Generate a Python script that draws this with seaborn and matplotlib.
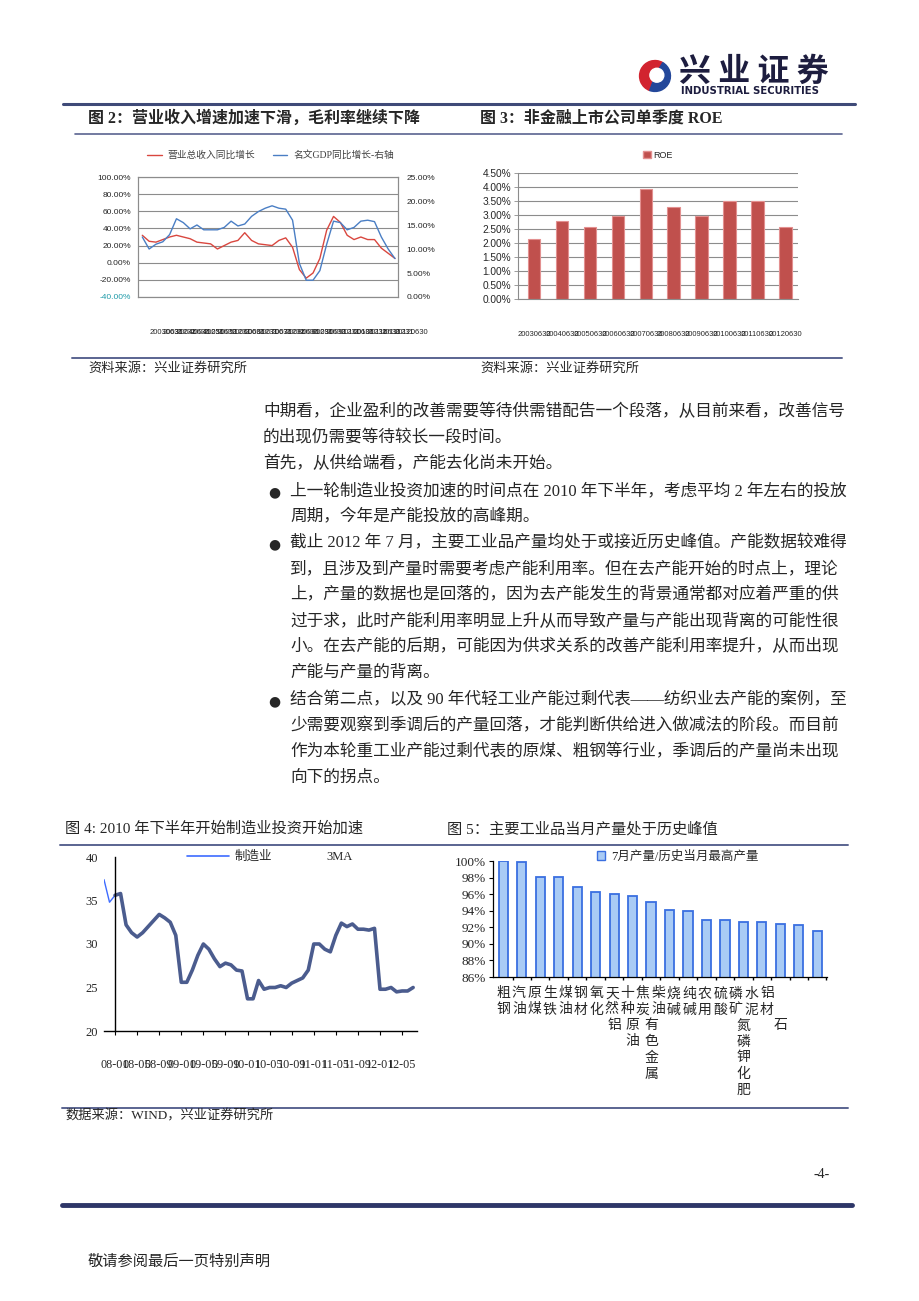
import numpy as np
import pandas as pd
import matplotlib
matplotlib.use('Agg')
import matplotlib.pyplot as plt
import seaborn as sns
from matplotlib.lines import Line2D
from matplotlib.patches import Patch, Wedge, Circle

# ---------------- data ----------------
# 图2: quarterly growth (%), 2003Q1 .. 2012Q2
rev_growth = [32, 25, 24, 27, 30, 32, 30, 28, 24, 23, 22, 16, 20, 24, 26, 35, 26, 22, 21,
              20, 26, 29, 18, -8, -18, -12, 5, 38, 54, 47, 32, 27, 30, 27, 27, 17, 11, 5]
gdp_growth = [12.5, 10, 11, 11.5, 13, 16.3, 15.5, 14.2, 15, 14, 14, 14, 14.5, 15.8, 14.8, 15.2,
              16.8, 17.8, 18.5, 19, 18.5, 18.3, 16, 7, 3.5, 3.5, 5.5, 11, 15.8, 15.5, 14, 14.5,
              15.8, 16, 15.7, 12.5, 10, 8]
q_tick_labels = ["20030630", "20031231", "20040630", "20041231", "20050630", "20051231",
                 "20060630", "20061231", "20070630", "20071231", "20080630", "20081231",
                 "20090630", "20091231", "20100630", "20101231", "20110630", "20111231",
                 "20120630"]
rev_name = "营业总收入同比增长"
gdp_name = "名文GDP同比增长-右轴"

# 图3: ROE (%)
roe_dates = ["20030630", "20040630", "20050630", "20060630", "20070630",
             "20080630", "20090630", "20100630", "20110630", "20120630"]
roe_values = [2.14, 2.77, 2.57, 2.97, 3.94, 3.29, 2.97, 3.51, 3.51, 2.57]

# 图4: manufacturing FAI growth, monthly
mfg_months = list(range(-2, 55))
ma3_months = list(range(0, 55))
ma3_values = [35.6, 35.8, 32.2, 31.3, 30.8, 31.3, 32.0, 32.7, 33.4, 33.0, 32.5, 31.0, 25.6,
              25.6, 27.0, 28.7, 30.0, 29.4, 28.3, 27.4, 27.8, 27.6, 27.0, 26.9, 23.7, 23.7,
              25.8, 24.8, 25.0, 25.0, 25.2, 25.0, 25.5, 25.8, 26.1, 27.0, 30.0, 30.0, 29.4,
              29.1, 31.0, 32.4, 32.0, 32.3, 31.7, 31.7, 31.6, 31.8, 24.8, 24.8, 25.0, 24.5,
              24.6, 24.6, 25.0]
mfg_values = [37.4, 34.8, 35.6, 35.8, 32.2, 31.3, 30.8, 31.3, 32.0, 32.7, 33.4, 33.0, 32.5,
              31.0, 25.6, 25.6, 27.0, 28.7, 30.0, 29.4, 28.3, 27.4, 27.8, 27.6, 27.0, 26.9,
              23.7, 23.7, 25.8, 24.8, 25.0, 25.0, 25.2, 25.0, 25.5, 25.8, 26.1, 27.0, 30.0,
              30.0, 29.4, 29.1, 31.0, 32.4, 32.0, 32.3, 31.7, 31.7, 31.6, 31.8, 24.8, 24.8,
              25.0, 24.5, 24.6, 24.6, 25.0]
mfg_tick_months = [0, 4, 8, 12, 16, 20, 24, 28, 32, 36, 40, 44, 48, 52]
mfg_tick_labels = ["08-01", "08-05", "08-09", "09-01", "09-05", "09-09", "10-01",
                   "10-05", "10-09", "11-01", "11-05", "11-09", "12-01", "12-05"]

# 图5: July output / historical same-month max (%)
products = ["粗钢", "汽油", "原煤", "生铁", "煤油", "钢材", "氧化铝", "天然原油", "十种有色金属",
            "焦炭", "柴油", "烧碱", "纯碱", "农用氮磷钾化肥", "硫酸", "磷矿石", "水泥", "铝材"]
ratios = [100.0, 99.84, 98.03, 98.03, 96.86, 96.22, 96.06, 95.74, 95.05, 94.05, 93.93,
          92.92, 92.92, 92.6, 92.6, 92.4, 92.24, 91.6]

# ---------------- style ----------------
sns.set_theme(style='white')
SERIF = ['Liberation Serif', 'Noto Sans CJK SC']
SANS = ['Liberation Sans', 'Noto Sans CJK SC']
plt.rcParams['font.family'] = SERIF
plt.rcParams['axes.unicode_minus'] = False

W, H = 920, 1301
fig = plt.figure(figsize=(9.2, 13.01), dpi=100)
fig.patch.set_facecolor('white')


def fx(x):
    return x / W


def fy(y):
    return 1 - y / H


def axrect(l, t, r, b):
    return [l / W, 1 - b / H, (r - l) / W, (b - t) / H]


def ftext(x, y, s, **kw):
    kw.setdefault('va', 'center')
    kw.setdefault('ha', 'left')
    fig.text(fx(x), fy(y), s, **kw)


def hline(y, x0, x1, lw=1.5, color='#4b5682'):
    fig.add_artist(Line2D([fx(x0), fx(x1)], [fy(y), fy(y)], lw=lw, color=color,
                          transform=fig.transFigure))


# ---------------- header ----------------
lax = fig.add_axes([fx(638), fy(93), 34 / W, 34 / H])
lax.set_xlim(-1.1, 1.1)
lax.set_ylim(-1.1, 1.1)
lax.set_aspect('equal')
lax.axis('off')
lax.add_patch(Wedge((0, 0), 1.0, 60, 250, color='#d2232f'))
lax.add_patch(Wedge((0, 0), 1.0, 250, 420, color='#23479a'))
lax.add_patch(Circle((0.12, 0.05), 0.45, color='white'))
ftext(679, 72, "兴 业 证 券", fontsize=23, fontweight='bold', color='#1d1d3f',
      family=['Noto Sans CJK SC'])
ftext(681, 91, "INDUSTRIAL SECURITIES", fontsize=7.3, fontweight='bold', color='#1d1d3f',
      family=['DejaVu Sans'])
hline(104, 63, 855, lw=2.2, color='#3f4a78')

ftext(88, 119, "图 2：营业收入增速加速下滑，毛利率继续下降", fontsize=11.5, fontweight='bold')
ftext(480, 119, "图 3：非金融上市公司单季度 ROE", fontsize=11.5, fontweight='bold')
hline(134, 75, 842, lw=1.2, color='#5a6490')

# ---------------- chart 1 ----------------
ax1 = fig.add_axes(axrect(138, 177, 398, 297))
q = np.arange(len(rev_growth))
df1 = pd.DataFrame({'q': q, 'rev': rev_growth, 'gdp': gdp_growth})
sns.lineplot(data=df1, x='q', y='rev', ax=ax1, color='#d9473f', lw=1.0, legend=False)
ax1.set_ylim(-40, 100)
yt1 = list(range(-40, 101, 20))
ax1.set_yticks(yt1, labels=[f"{v:.2f}%" for v in yt1])
ax1.get_yticklabels()[0].set_color('#1e9aa8')
ax1.set_xlim(-0.63, len(q) - 1 + 0.44)
ax1.set_xticks(q[1::2], labels=q_tick_labels)
for t in ax1.get_xticklabels():
    t.set_ha('left')
ax1.tick_params(axis='x', length=0, pad=23, labelsize=5.5)
ax1.tick_params(axis='y', length=0, pad=5, labelsize=6)
for t in ax1.get_xticklabels() + ax1.get_yticklabels():
    t.set_family(SANS)
ax1.grid(axis='y', color='#8c8c8c', lw=0.8)
ax1.set_xlabel('')
ax1.set_ylabel('')
ax1b = ax1.twinx()
sns.lineplot(data=df1, x='q', y='gdp', ax=ax1b, color='#4a7ec4', lw=1.0, legend=False)
ax1b.set_ylim(0, 25)
yt1b = [0, 5, 10, 15, 20, 25]
ax1b.set_yticks(yt1b, labels=[f"{v:.2f}%" for v in yt1b])
ax1b.tick_params(axis='y', length=0, pad=6, labelsize=6)
for t in ax1b.get_yticklabels():
    t.set_family(SANS)
ax1b.set_ylabel('')
for a in (ax1, ax1b):
    for s in a.spines.values():
        s.set_color('#8c8c8c')
        s.set_linewidth(0.8)
ax1.legend(handles=[Line2D([], [], color='#d9473f', lw=1.0), Line2D([], [], color='#4a7ec4', lw=1.0)],
           labels=[rev_name, gdp_name], loc='center', bbox_to_anchor=(0.51, 1.18), ncol=2,
           frameon=False, fontsize=7, handlelength=1.5, columnspacing=1.8, handletextpad=0.6,
           labelcolor='#404040')

# ---------------- chart 2 ----------------
ax2 = fig.add_axes(axrect(518, 173, 798, 299))
df2 = pd.DataFrame({'d': roe_dates, 'roe': roe_values})
sns.barplot(data=df2, x='d', y='roe', ax=ax2, color='#c0504d', saturation=1, width=0.45,
            edgecolor='#e39090', linewidth=0.8)
ax2.set_ylim(0, 4.5)
yt2 = [0, 0.5, 1.0, 1.5, 2.0, 2.5, 3.0, 3.5, 4.0, 4.5]
ax2.set_yticks(yt2, labels=[f"{v:.2f}%" for v in yt2])
ax2.set_xlim(-0.58, 9.45)
ax2.tick_params(axis='x', length=0, pad=23, labelsize=5.5)
ax2.tick_params(axis='y', length=3, width=0.6, color='#8c8c8c', pad=2, labelsize=7.3, left=True)
for t in ax2.get_xticklabels() + ax2.get_yticklabels():
    t.set_family(SANS)
ax2.grid(axis='y', color='#8c8c8c', lw=0.8)
ax2.set_axisbelow(True)
ax2.set_xlabel('')
ax2.set_ylabel('')
for k, s in ax2.spines.items():
    s.set_color('#8c8c8c')
    s.set_linewidth(0.8)
ax2.spines['top'].set_visible(False)
ax2.spines['right'].set_visible(False)
ax2.legend(handles=[Patch(facecolor='#c0504d', edgecolor='#e39090')], labels=['ROE'],
           loc='center', bbox_to_anchor=(0.5, 1.14), frameon=False,
           handlelength=0.8, handleheight=0.8, handletextpad=0.3, prop={'family': SANS, 'size': 6.5})

hline(358, 72, 842, lw=1.4, color='#5a6490')
ftext(88, 368, "资料来源：兴业证券研究所", fontsize=9.5)
ftext(480, 368, "资料来源：兴业证券研究所", fontsize=9.5)

# ---------------- body text ----------------
BODY = 12
ftext(263, 412, "中期看，企业盈利的改善需要等待供需错配告一个段落，从目前来看，改善信号", fontsize=BODY)
ftext(263, 438, "的出现仍需要等待较长一段时间。", fontsize=BODY)
ftext(263, 464, "首先，从供给端看，产能去化尚未开始。", fontsize=BODY)
bullets = [
    (491, ["上一轮制造业投资加速的时间点在 2010 年下半年，考虑平均 2 年左右的投放",
           "周期，今年是产能投放的高峰期。"]),
    (543, ["截止 2012 年 7 月，主要工业品产量均处于或接近历史峰值。产能数据较难得",
           "到，且涉及到产量时需要考虑产能利用率。但在去产能开始的时点上，理论",
           "上，产量的数据也是回落的，因为去产能发生的背景通常都对应着严重的供",
           "过于求，此时产能利用率明显上升从而导致产量与产能出现背离的可能性很",
           "小。在去产能的后期，可能因为供求关系的改善产能利用率提升，从而出现",
           "产能与产量的背离。"]),
    (700, ["结合第二点，以及 90 年代轻工业产能过剩代表——纺织业去产能的案例，至",
           "少需要观察到季调后的产量回落，才能判断供给进入做减法的阶段。而目前",
           "作为本轮重工业产能过剩代表的原煤、粗钢等行业，季调后的产量尚未出现",
           "向下的拐点。"]),
]
for y0, lines in bullets:
    ftext(268, y0 + 1, "●", fontsize=10, family=['DejaVu Sans'])
    for k, line in enumerate(lines):
        ftext(290, y0 + 26 * k, line, fontsize=BODY)

# ---------------- chart titles row 2 ----------------
ftext(65, 829, "图 4: 2010 年下半年开始制造业投资开始加速", fontsize=11)
ftext(447, 829, "图 5：主要工业品当月产量处于历史峰值", fontsize=11)
hline(845, 60, 848, lw=1.4, color='#5a6490')

# ---------------- chart 3 ----------------
ax3 = fig.add_axes(axrect(104, 857, 417, 1031))
sns.lineplot(x=mfg_months, y=mfg_values, ax=ax3, color='#3d6bff', lw=1.0)
sns.lineplot(x=ma3_months, y=ma3_values, ax=ax3, color='#4b5c8e', lw=2.6)
ax3.set_xlim(-2, 54.7)
ax3.set_ylim(20, 40)
ax3.set_yticks([20, 25, 30, 35, 40])
ax3.set_xticks(mfg_tick_months, labels=mfg_tick_labels)
ax3.spines['left'].set_position(('data', 0))
ax3.spines['top'].set_visible(False)
ax3.spines['right'].set_visible(False)
for k in ('left', 'bottom'):
    ax3.spines[k].set_color('black')
    ax3.spines[k].set_linewidth(1.0)
ax3.tick_params(axis='y', length=0, pad=12, labelsize=9)
ax3.tick_params(axis='x', length=3, width=0.8, color='black', direction='out', bottom=True,
                pad=17, labelsize=8.7)
ax3.set_xlabel('')
ax3.set_ylabel('')
ax3.legend(handles=[Line2D([], [], color='#3d6bff', lw=1.2), Line2D([], [], color='none')],
           labels=['制造业', '3MA'], loc='center', bbox_to_anchor=(0.53, 1.0), ncol=2,
           frameon=False, fontsize=9, handlelength=3.4, columnspacing=0.6, handletextpad=0.4)

# ---------------- chart 4 ----------------
ax4 = fig.add_axes(axrect(493, 861, 827, 977))
df4 = pd.DataFrame({'prod': products, 'ratio': ratios})
sns.barplot(data=df4, x='prod', y='ratio', ax=ax4, color='#a9cbf5', saturation=1, width=0.5,
            edgecolor='#3a6fe0', linewidth=1.3)
ax4.set_ylim(86, 100)
ax4.set_xlim(-0.56, len(products) - 1 + 0.53)
yt4 = list(range(86, 101, 2))
ax4.set_yticks(yt4, labels=[f"{v}%" for v in yt4])
ax4.set_xticks(np.arange(len(products)) + 0.5, labels=[''] * len(products))
ax4.tick_params(axis='x', length=2, width=1.0, color='black', bottom=True, direction='out')
ax4.tick_params(axis='y', length=3, width=0.8, color='black', left=True, pad=2, labelsize=9.5)
ax4.spines['top'].set_visible(False)
ax4.spines['right'].set_visible(False)
for k in ('left', 'bottom'):
    ax4.spines[k].set_color('black')
    ax4.spines[k].set_linewidth(0.9)
ax4.set_xlabel('')
ax4.set_ylabel('')
trans4 = ax4.get_xaxis_transform()
for i, name in enumerate(products):
    for r, ch in enumerate(name):
        xpos = i * 0.84 if r < 2 else i
        ypx = 994 + 16 * r
        ax4.text(xpos, (977 - ypx) / 116, ch, transform=trans4, ha='center', va='center',
                 fontsize=10, clip_on=False)
ax4.legend(handles=[Patch(facecolor='#a9cbf5', edgecolor='#3a6fe0')],
           labels=['7月产量/历史当月最高产量'], loc='center', bbox_to_anchor=(0.553, 1.034),
           frameon=False, fontsize=9, handlelength=0.7, handleheight=0.7, handletextpad=0.5)

hline(1108, 62, 848, lw=1.4, color='#5a6490')
ftext(65, 1116, "数据来源：WIND，兴业证券研究所", fontsize=9.5)

# ---------------- footer ----------------
ftext(814, 1175, "-4-", fontsize=10)
hline(1205, 62, 852, lw=3.5, color='#2e3668')
ftext(88, 1262, "敬请参阅最后一页特别声明", fontsize=11)

fig.savefig('out.png', dpi=100)
